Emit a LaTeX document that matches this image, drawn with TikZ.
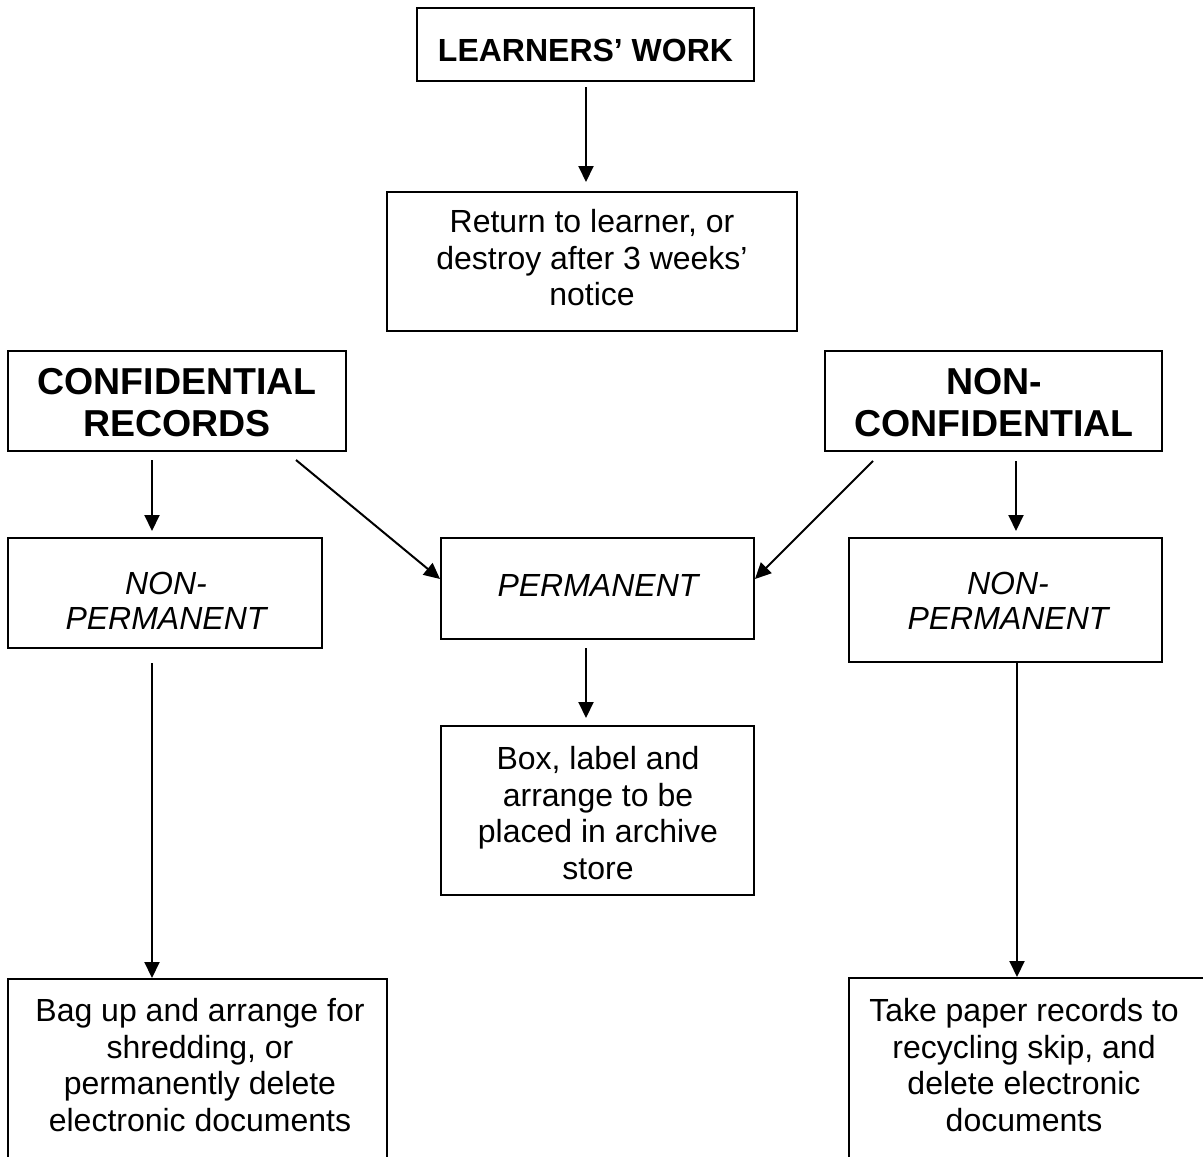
\documentclass[tikz,border=0pt]{standalone}
\usepackage{fontspec}
\setmainfont{Liberation Sans}
\usetikzlibrary{arrows.meta,calc}
\begin{document}
\begin{tikzpicture}[x=1pt,y=-1pt,
  boxs/.style={draw,line width=2pt,inner sep=0pt},
  reg/.style={font=\fontsize{32}{36.5}\selectfont,align=center,inner sep=0pt},
  itl/.style={font=\fontsize{32}{35}\selectfont\itshape,align=center,inner sep=0pt},
  hd/.style={font=\fontsize{37.5}{42}\selectfont\bfseries,align=center,inner sep=0pt},
  hds/.style={font=\fontsize{32}{38}\selectfont\bfseries,align=center,inner sep=0pt},
  arr/.style={line width=2pt,-{Triangle[length=16pt,width=15pt]}}]
\useasboundingbox (0,0) rectangle (1203,1157);
\clip (0,0) rectangle (1203,1157);
\fill[white] (0,0) rectangle (1203,1157);

% boxes
\node[boxs,minimum width=337pt,minimum height=73pt] (lw) at (585.5,44.5) {};
\node[hds] (lwt) at (585.5,50) {LEARNERS’ WORK};

\node[boxs,minimum width=410pt,minimum height=139pt] (ret) at (592,261.5) {};
\node[reg] (rett) at (592,258) {Return to learner, or\\destroy after 3 weeks’\\notice};

\node[boxs,minimum width=338pt,minimum height=100pt] (conf) at (177,401) {};
\node[hd] (conft) at (177,403) {CONFIDENTIAL\\RECORDS};

\node[boxs,minimum width=337pt,minimum height=100pt] (nonconf) at (993.5,401) {};
\node[hd] (nonconft) at (994,403) {NON-\\CONFIDENTIAL};

\node[boxs,minimum width=314pt,minimum height=110pt] (np1) at (165,593) {};
\node[itl] (np1t) at (166,600.5) {NON-\\PERMANENT};

\node[boxs,minimum width=313pt,minimum height=101pt] (perm) at (597.5,588.5) {};
\node[itl] (permt) at (598,585) {PERMANENT};

\node[boxs,minimum width=313pt,minimum height=124pt] (np2) at (1005.5,600) {};
\node[itl] (np2t) at (1008,600.5) {NON-\\PERMANENT};

\node[boxs,minimum width=313pt,minimum height=169pt] (arch) at (597.5,810.5) {};
\node[reg] (archt) at (598,813) {Box, label and\\arrange to be\\placed in archive\\store};

\node[boxs,minimum width=379pt,minimum height=201pt] (bag) at (197.5,1079.5) {};
\node[reg] (bagt) at (200,1065) {Bag up and arrange for\\shredding, or\\permanently delete\\electronic documents};

\node[boxs,minimum width=362pt,minimum height=204pt] (take) at (1030,1080) {};
\node[reg] (taket) at (1024,1065) {Take paper records to\\recycling skip, and\\delete electronic\\documents};

% connectors
\coordinate (a1) at ($(lw.south)+(0.5,5)$);
\draw[arr] (a1) -- ($(a1 |- ret.north)+(0,-9)$);

\coordinate (a2) at ($(conf.south west)+(145,8)$);
\draw[arr] (a2) -- ($(a2 |- np1.north)+(0,-6)$);

\draw[arr] ($(conf.south west)+(289,8)$) -- ($(perm.west)+(0,-9.5)$);

\draw[arr] ($(nonconf.south west)+(49,9)$) -- ($(perm.east)+(0,-9.5)$);

\coordinate (a3) at ($(nonconf.south west)+(192,9)$);
\draw[arr] (a3) -- ($(a3 |- np2.north)+(0,-6)$);

\coordinate (a4) at ($(perm.south)+(-11.5,8)$);
\draw[arr] (a4) -- ($(a4 |- arch.north)+(0,-7)$);

\coordinate (a5) at ($(np1.south west)+(145,14)$);
\draw[arr] (a5) -- (a5 |- bag.north);

\coordinate (a6) at ($(np2.south west)+(169,0)$);
\draw[arr] (a6) -- (a6 |- take.north);
\end{tikzpicture}
\end{document}
